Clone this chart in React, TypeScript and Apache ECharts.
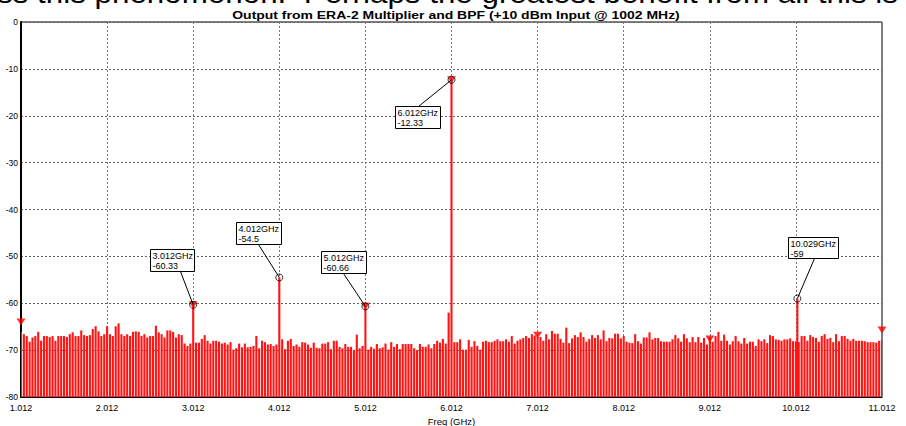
import React, { useEffect, useRef } from 'react';
import * as echarts from 'echarts';

// ---------- data ----------
const START_GHZ = 1.012;
const SPAN_GHZ = 10;
const POINTS_PER_GHZ = 30;
const FLOOR_DB = -80;

const xTickOffsets = [0, 1, 2, 3, 4, 5, 6, 7, 8, 9, 10];

// labelled markers
const markerFreqs = [3.012, 4.012, 5.012, 6.012, 10.029];
const markerLevels = [-60.33, -54.5, -60.66, -12.33, -59];

// unlabelled delta markers (triangles)
const deltaFreqs = [1.012, 7.012, 9.012, 11.012];
const deltaLevels = [-64, -66.8, -67.6, -65.7];

// noise floor trace (dBm)
const band1 = [
  -66.0, -66.6, -67, -68.2, -67.3, -67, -66.1, -68, -67, -67, -67.2,
  -67, -68, -67, -67, -67, -67.2, -66.6, -66.2, -67, -67,
  -65.8, -66.8, -67, -66.8, -65.5, -64.9, -66, -67, -66.6, -64.9,
  -66.6, -67, -64.9, -64.3, -66.6, -67, -66.6, -67, -66.1, -66,
  -66.1, -67, -66.6, -67.3, -67, -67, -64.8, -66.2, -66.6, -67.3,
  -65.8, -65.8, -66.1, -67.3, -66.6, -66.8, -68.6, -69.1, -68.6,
];
const band2 = [
  -68.4, -68.4, -67.6, -66.8, -68, -68.6, -68, -68, -68.2, -68.6, -68.4, -68.8, -68.3, -69.9, -69.6, -68.6,
  -69.4, -68.6, -69.4, -69.3, -69.1, -67, -69.6, -68, -68.3, -68.8, -68.7, -69.1, -68.8,
];
const band3 = [
  -67.7, -69.8, -68, -67.6, -69.1, -68.8, -69.3, -68.3, -68.4, -68.8,
  -69.5, -68.4, -69.5, -69.6, -68.6, -68.6, -68.3, -69.8, -68, -68,
  -69.3, -69.6, -68.7, -69.3, -69.3, -70, -66.7, -69.6, -69.1,
];
const band4 = [
  -69.9, -69.3, -69.7, -68.7, -69.6, -69.4, -68.6, -69.9, -68.3, -69.3,
  -68.7, -69.8, -68.7, -68.7, -68.7, -68.7, -69.6, -70, -68.7, -69.3,
  -69.3, -68.8, -69.6, -68.7, -68, -68.4, -67.6, -68.6, -62,
];
const band5 = [
  -68.3, -68.3, -67.7, -69.9, -69.9, -67.8, -69.3, -68.1, -69.1, -69.9, -68.2, -68.0,
  -68.3, -68.3, -68, -67.7, -68.1, -68.1, -67.7, -68.2, -67, -68.6, -68, -67.7, -67.4, -67, -67.4, -66.6, -66.9,
  -67.2,
];
const band6 = [
  -67.2, -68, -66.6, -67.7, -65.9, -66.5, -66.5, -67.6, -68.4, -65.2,
  -68.5, -67.5, -66.8, -67.2, -66.2, -67.2, -68.2, -67.6, -66.8, -67.4,
  -66.8, -67.7, -65.8, -68.1, -67.4, -67.5, -66.5, -66.5, -67.5,
  -67,
];
const band7 = [
  -68.2, -68.4, -68.5, -66.6, -68.1, -68.6, -67.3, -67.3, -66.2, -67.7, -67.4, -67.4, -68.1, -68.2, -68.2, -68.2, -67.7, -66.8,
  -67.5, -68.2, -66.6, -67.5, -68.3, -67.2, -68.3, -67.2, -68.4, -67.4, -68.8,
  -67.2,
];
const band8 = [
  -68.2, -67, -66.1, -68, -66.7, -68, -68.8, -68.1, -67, -68.1,
  -68.6, -67.4, -68.6, -68.2, -68.2, -69.1, -67.7, -68.1, -67.7, -68.5,
  -66.8, -67, -67.7, -67.8, -68, -67.7, -67.7, -67.5, -68.1, -68.1,
];
const band9 = [
  -68.3, -67, -67, -68, -66.8, -67.2, -67.4, -68.2, -67, -66.6,
  -67.6, -67.4, -68.3, -66.6, -68.1, -67, -67, -67.6, -68, -67.6,
  -68, -68, -68, -68.1, -68.3, -68.3, -68.3, -68.4, -68, -67.8,
];

const traceLevels = [
  ...band1, markerLevels[0],
  ...band2, markerLevels[1],
  ...band3, markerLevels[2],
  ...band4, markerLevels[3],
  ...band5, ...band6, ...band7, ...band8, ...band9,
];

// ---------- styles ----------
const FONT = "'Liberation Sans', Arial, sans-serif";
const RED = '#ff1414';
const BAR_W = 2.1;

const labelBoxes = [
  { dx: -43, dy: -56, w: 44, h: 22, lx: 30, ly: 22 },
  { dx: -43, dy: -55.5, w: 45, h: 22, lx: 22, ly: 22 },
  { dx: -44, dy: -55.4, w: 45, h: 22, lx: 22, ly: 22 },
  { dx: -57, dy: 26, w: 45, h: 22, lx: 23, ly: 0 },
  { dx: -9.5, dy: -61.6, w: 50, h: 21, lx: 26, ly: 21 },
];

const off = (f: number) => f - START_GHZ;

export default function App() {
  const ref = useRef<HTMLDivElement>(null);
  useEffect(() => {
    document.body.style.margin = '0';
    const chart = echarts.init(ref.current!, null, { renderer: 'svg' });

    const traceData: number[][] = traceLevels.map((v, i) => [i / POINTS_PER_GHZ, v]);
    traceData.push([off(markerFreqs[4]), markerLevels[4]]);

    const triData: number[][] = [
      ...deltaFreqs.map((f, i) => [off(f), deltaLevels[i]]),
      [off(markerFreqs[0]), markerLevels[0]],
      [off(markerFreqs[2]), markerLevels[2]],
      [off(markerFreqs[3]), markerLevels[3]],
    ];
    const circleData: number[][] = markerFreqs.map((f, i) => [off(f), markerLevels[i]]);

    const option: any = {
      animation: false,
      backgroundColor: '#fff',
      grid: {
        left: 21, right: 24, top: 22, bottom: 29,
        outerBoundsMode: 'none',
        containLabel: false,
        show: true, borderColor: '#000', borderWidth: 1, backgroundColor: 'transparent',
      },
      xAxis: {
        type: 'value', min: 0, max: SPAN_GHZ, interval: 1,
        axisLine: { show: true, onZero: false, lineStyle: { color: '#000', width: 1 } },
        axisTick: { show: false },
        axisLabel: {
          color: '#000', fontFamily: FONT, fontSize: 9, margin: 6,
          formatter: (v: number) => (v + START_GHZ).toFixed(3),
          customValues: xTickOffsets,
        },
        splitLine: { show: true, lineStyle: { color: '#777', type: [2, 2], width: 1 } },
        name: 'Freq (GHz)', nameLocation: 'middle', nameGap: 16,
        nameTextStyle: { color: '#000', fontFamily: FONT, fontSize: 9.5 },
      },
      yAxis: {
        type: 'value', min: FLOOR_DB, max: 0, interval: 10,
        axisLine: { show: true, onZero: false, lineStyle: { color: '#000', width: 2 } },
        axisTick: { show: false },
        axisLabel: { color: '#000', fontFamily: FONT, fontSize: 8.5, margin: 3 },
        splitLine: { show: true, lineStyle: { color: '#666', type: [2, 2], width: 1 } },
      },
      series: [
        {
          type: 'custom',
          clip: true,
          data: traceData,
          renderItem: (params: any, api: any) => {
            const x = api.value(0);
            const v = api.value(1);
            const top = api.coord([x, v]);
            const base = api.coord([x, FLOOR_DB]);
            return {
              type: 'rect',
              shape: { x: top[0] - BAR_W / 2, y: top[1], width: BAR_W, height: base[1] - top[1] },
              style: { fill: RED },
            };
          },
          z: 2,
        },
        {
          type: 'scatter',
          data: triData,
          symbol: 'triangle',
          symbolRotate: 180,
          symbolSize: [9, 7],
          itemStyle: { color: '#ff0000' },
          z: 4,
        },
        {
          type: 'scatter',
          data: circleData,
          symbol: 'circle',
          symbolSize: 7,
          itemStyle: { color: 'rgba(0,0,0,0)', borderColor: '#000', borderWidth: 1 },
          z: 5,
        },
      ],
      graphic: [
        {
          type: 'text', left: -3, top: -21, z: 10,
          style: {
            text: 'ss this phenomenon.  Perhaps the greatest benefit from all this is',
            font: `28px ${FONT}`, fill: '#000',
          },
          scaleX: 1.12,
        },
        {
          type: 'text', x: 456, y: 16, z: 10,
          style: {
            text: 'Output from ERA-2 Multiplier and BPF (+10 dBm Input @ 1002 MHz)',
            font: `bold 11px ${FONT}`, fill: '#000', align: 'center', verticalAlign: 'middle',
          },
          scaleX: 1.27,
        },
      ],
    };
    chart.setOption(option);

    const extra: any[] = [];
    markerFreqs.forEach((f, i) => {
      const p = chart.convertToPixel({ xAxisIndex: 0, yAxisIndex: 0 }, [off(f), markerLevels[i]]) as number[];
      const b = labelBoxes[i];
      const bx = Math.round(p[0] + b.dx) + 0.5;
      const by = Math.round(p[1] + b.dy) + 0.5;
      extra.push({
        type: 'line', z: 11,
        shape: { x1: bx + b.lx, y1: by + b.ly, x2: p[0], y2: p[1] },
        style: { stroke: '#000', lineWidth: 1 },
      });
      extra.push({
        type: 'rect', z: 12,
        shape: { x: bx, y: by, width: b.w, height: b.h },
        style: { fill: '#fff', stroke: '#000', lineWidth: 1 },
      });
      extra.push({
        type: 'text', z: 13, x: bx + 2, y: by + 1.5,
        style: {
          text: `${f.toFixed(3)}GHz\n${markerLevels[i]}`,
          font: `9px ${FONT}`, lineHeight: 10, fill: '#000',
        },
      });
    });
    chart.setOption({ graphic: [...option.graphic, ...extra] });

    return () => chart.dispose();
  }, []);
  return <div ref={ref} style={{ width: 906, height: 426 }} />;
}
